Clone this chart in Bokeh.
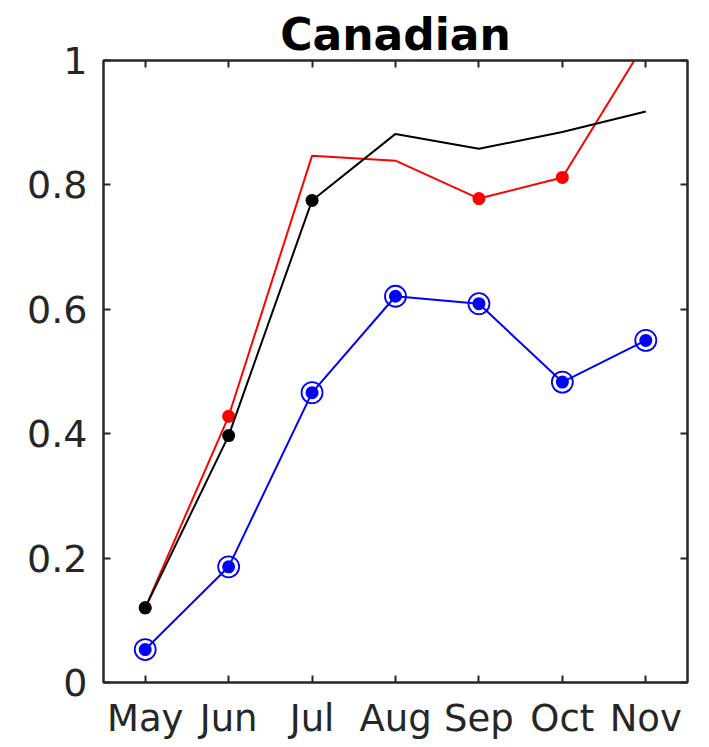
from bokeh.plotting import figure
from bokeh.models import (FactorRange, Range1d, LinearAxis, CategoricalAxis,
                          FixedTicker, CustomJSTickFormatter)
from bokeh.embed import file_html
from bokeh.resources import INLINE

# Monthly series
months = ["May", "Jun", "Jul", "Aug", "Sep", "Oct", "Nov"]
black_vals = [0.12, 0.397, 0.775, 0.882, 0.858, 0.885, 0.918]
red_vals = [0.12, 0.428, 0.847, 0.839, 0.778, 0.812, 1.03]
blue_vals = [0.053, 0.186, 0.466, 0.621, 0.609, 0.483, 0.55]

# Months that carry a dot marker on each line
black_marked = ["May", "Jun", "Jul"]
red_marked = ["May", "Jun", "Sep", "Oct"]

y_ticks = [0, 0.2, 0.4, 0.6, 0.8, 1.0]

AX = "#262626"
FONT = "DejaVu Sans"

p = figure(width=709, height=747, x_range=FactorRange(*months, range_padding=0),
           y_range=Range1d(0, 1), output_backend="svg", toolbar_location=None,
           min_border_left=103, min_border_right=22, min_border_top=60,
           min_border_bottom=65, x_axis_location=None, y_axis_location=None)
p.grid.visible = False
p.background_fill_color = "white"
p.border_fill_color = "white"
p.outline_line_color = AX
p.outline_line_width = 2

p.title.text = "Canadian"
p.title.align = "center"
p.title.text_font = FONT
p.title.text_font_style = "bold"
p.title.text_font_size = "44px"
p.title.text_color = "black"
p.title.standoff = 2

fmt = CustomJSTickFormatter(code="return tick.toFixed(1).replace(/\\.0$/, '');")
blank = CustomJSTickFormatter(code="return '';")


def style(ax, size="38px", standoff=14):
    ax.axis_line_color = AX
    ax.axis_line_width = 2
    ax.major_tick_line_color = AX
    ax.major_tick_line_width = 2
    ax.major_tick_in = 7
    ax.major_tick_out = 0
    ax.minor_tick_line_color = None
    ax.major_label_text_font = FONT
    ax.major_label_text_color = AX
    ax.major_label_text_font_size = size
    ax.major_label_standoff = standoff


left = LinearAxis(ticker=FixedTicker(ticks=y_ticks), formatter=fmt)
style(left, standoff=16)
p.add_layout(left, "left")

bottom = CategoricalAxis()
style(bottom, size="37px", standoff=14)
p.add_layout(bottom, "below")

# Tick-only mirror axes on the right and top edges of the box
right = LinearAxis(ticker=FixedTicker(ticks=y_ticks), formatter=blank)
style(right, size="1px", standoff=0)
p.add_layout(right, "right")

top = CategoricalAxis(formatter=blank)
style(top, size="1px", standoff=0)
p.add_layout(top, "above")

# Red series
p.line(months, red_vals, line_color="red", line_width=2)
p.scatter(red_marked, [red_vals[months.index(m)] for m in red_marked],
          size=13, color="red", line_width=0)

# Black series
p.line(months, black_vals, line_color="black", line_width=2)
p.scatter(black_marked, [black_vals[months.index(m)] for m in black_marked],
          size=13, color="black", line_width=0)

# Blue series with ringed dots
p.line(months, blue_vals, line_color="blue", line_width=2)
p.scatter(months, blue_vals, size=13, color="blue", line_width=0)
p.scatter(months, blue_vals, size=21, fill_color=None, line_color="blue",
          line_width=1.8)

open("out.html", "w").write(file_html(p, INLINE))
